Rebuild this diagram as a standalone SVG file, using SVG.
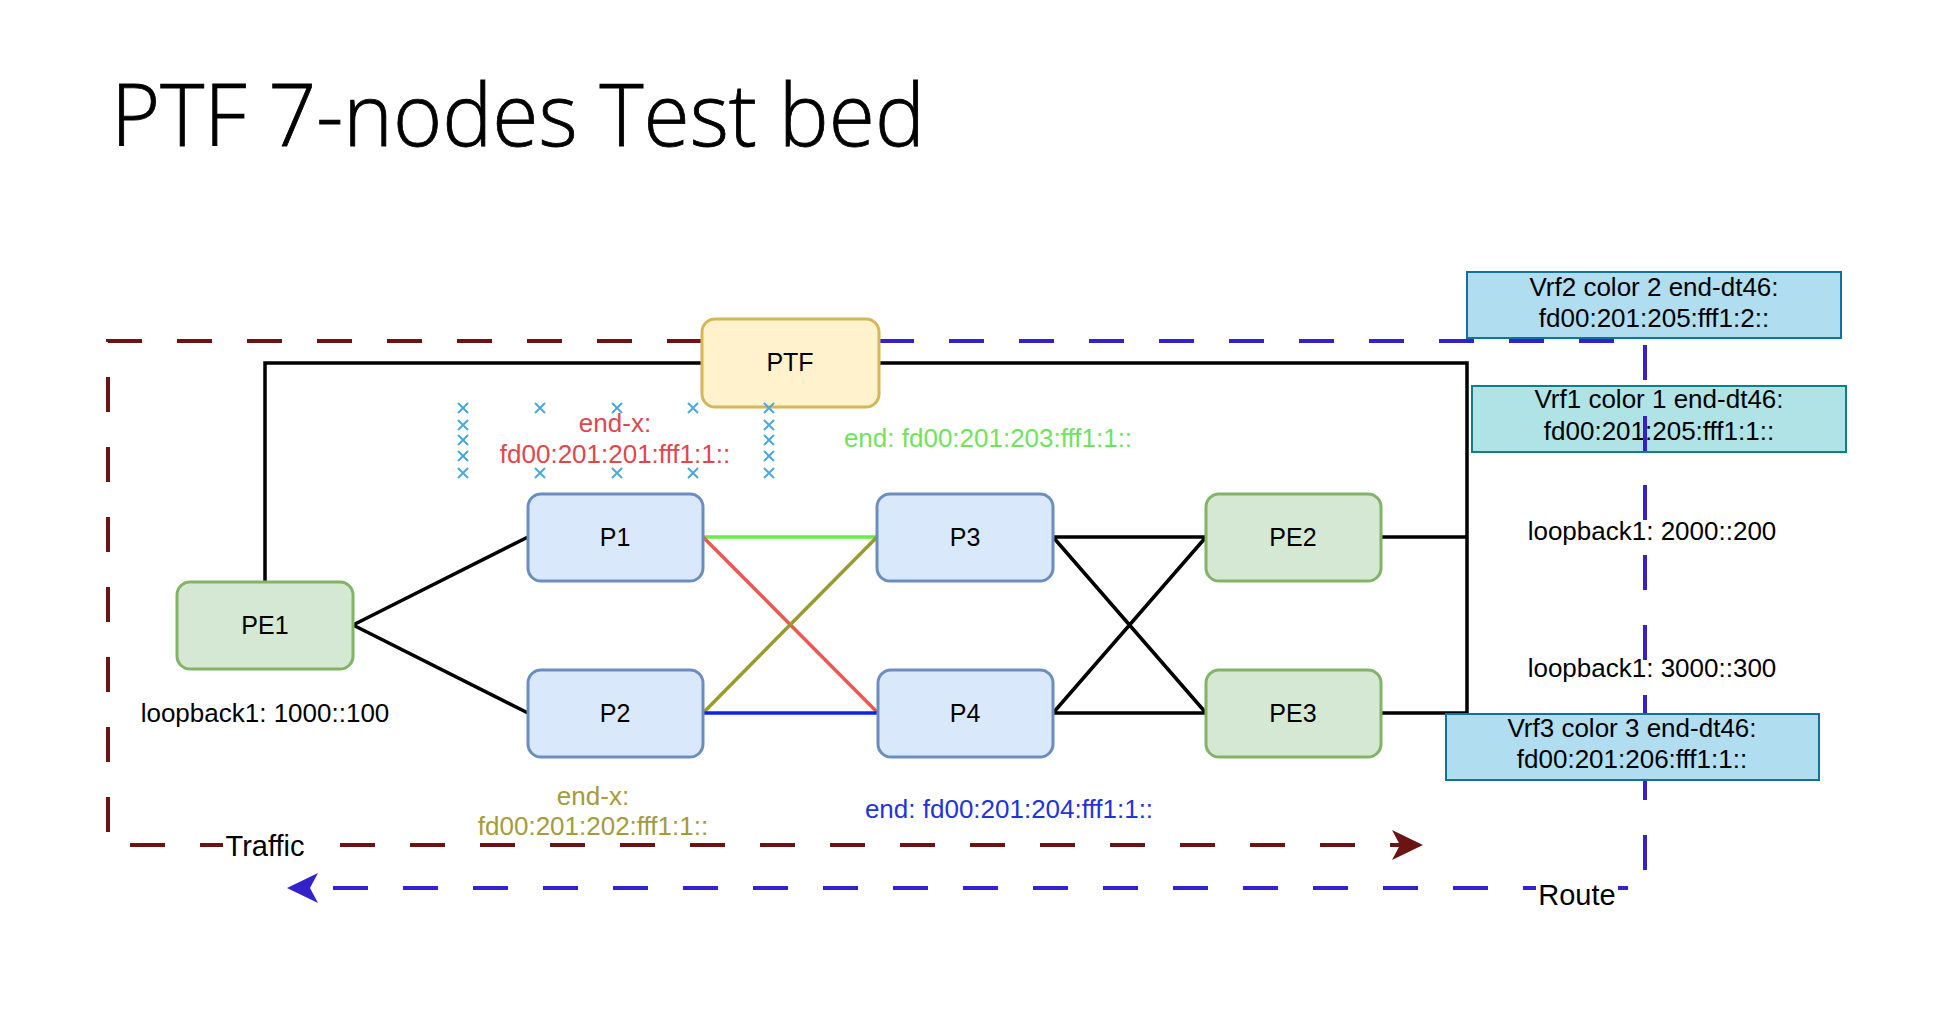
<svg xmlns="http://www.w3.org/2000/svg" width="1938" height="1032" viewBox="0 0 1938 1032">
<defs>
<style>
.t{font-family:"Liberation Sans",Arial,sans-serif;font-size:25px;fill:#000;text-anchor:middle}
.lbl{font-family:"Liberation Sans",Arial,sans-serif;font-size:26px;text-anchor:middle}
.blue{fill:#dae8fc;stroke:#6c8ebf;stroke-width:3}
.green{fill:#d5e8d4;stroke:#82b366;stroke-width:3}
.yellow{fill:#fff2cc;stroke:#d6b656;stroke-width:3}
.ln{fill:none;stroke:#000;stroke-width:3.5}
.cl{fill:none;stroke-width:3.5}
.dash{fill:none;stroke-width:4;stroke-dasharray:35 35}
.xm{fill:none;stroke:#4aa8de;stroke-width:2}
</style>
<path id="xx" d="M-5,-5 L5,5 M5,-5 L-5,5"/>
<marker id="arrM" markerUnits="userSpaceOnUse" viewBox="0 0 32 32" markerWidth="32" markerHeight="32" refX="8" refY="16" orient="auto">
<path d="M0,1 L31,16 L0,31 L8,16 Z" fill="#6b1414"/>
</marker>
<marker id="arrB" markerUnits="userSpaceOnUse" viewBox="0 0 32 32" markerWidth="32" markerHeight="32" refX="8" refY="16" orient="auto">
<path d="M0,1 L31,16 L0,31 L8,16 Z" fill="#3322cc"/>
</marker>
</defs>
<rect width="1938" height="1032" fill="#fff"/>
<text x="111" y="146" font-family="Open Sans, Noto Sans, sans-serif" font-weight="300" font-size="86" stroke="#000" stroke-width="0.8" textLength="814" lengthAdjust="spacingAndGlyphs">PTF 7-nodes Test bed</text>

<g id="connectors">
<path class="dash" stroke="#6b1414" d="M702,341 H108 V845 H1400" marker-end="url(#arrM)"/>
<path class="dash" stroke="#3322cc" d="M879,341 H1645 V888 H310" marker-end="url(#arrB)"/>
<path class="ln" d="M702,363 H265 V582"/>
<path class="ln" d="M879,363 H1467 V713 H1381"/>
<path class="ln" d="M1381,537 H1467"/>
<path class="ln" d="M353,625 L528,537 M353,625 L528,713"/>
<path class="cl" stroke="#66ee44" d="M703,537 H877"/>
<path class="cl" stroke="#e85a50" d="M703,537 L878,713"/>
<path class="cl" stroke="#9a9a2e" d="M703,713 L877,537"/>
<path class="cl" stroke="#0d24e6" d="M703,713 H878"/>
<path class="ln" d="M1053,537 H1206 M1053,537 L1206,713 M1053,713 L1206,537 M1053,713 H1206"/>
</g>

<g id="label-traffic">
<rect x="223" y="830" width="84" height="30" fill="#fff"/>
<text x="265" y="856" font-family="Liberation Sans, Arial, sans-serif" font-size="29" text-anchor="middle">Traffic</text>
</g>
<g id="label-route">
<rect x="1536" y="874" width="82" height="36" fill="#fff"/>
<text x="1577" y="905" font-family="Liberation Sans, Arial, sans-serif" font-size="29" text-anchor="middle">Route</text>
</g>

<g id="PTF"><rect class="yellow" x="702" y="319" width="177" height="88" rx="13"/><text class="t" x="790" y="371">PTF</text></g>
<g id="P1"><rect class="blue" x="528" y="494" width="175" height="87" rx="13"/><text class="t" x="615" y="546">P1</text></g>
<g id="P3"><rect class="blue" x="877" y="494" width="176" height="87" rx="13"/><text class="t" x="965" y="546">P3</text></g>
<g id="PE2"><rect class="green" x="1206" y="494" width="175" height="87" rx="13"/><text class="t" x="1293" y="546">PE2</text></g>
<g id="PE1"><rect class="green" x="177" y="582" width="176" height="87" rx="13"/><text class="t" x="265" y="634">PE1</text></g>
<g id="P2"><rect class="blue" x="528" y="670" width="175" height="87" rx="13"/><text class="t" x="615" y="722">P2</text></g>
<g id="P4"><rect class="blue" x="878" y="670" width="175" height="87" rx="13"/><text class="t" x="965" y="722">P4</text></g>
<g id="PE3"><rect class="green" x="1206" y="670" width="175" height="87" rx="13"/><text class="t" x="1293" y="722">PE3</text></g>

<g id="vrf2"><rect x="1467" y="272" width="374" height="66" fill="#b1ddf0" stroke="#10739e" stroke-width="2"/>
<text class="lbl" x="1654" y="296">Vrf2 color 2 end-dt46:</text><text class="lbl" x="1654" y="327">fd00:201:205:fff1:2::</text></g>
<g id="vrf1"><rect x="1472" y="386" width="374" height="66" fill="#b0e3e6" stroke="#0e8088" stroke-width="2"/>
<text class="lbl" x="1659" y="408">Vrf1 color 1 end-dt46:</text><text class="lbl" x="1659" y="440">fd00:201:205:fff1:1::</text></g>
<path fill="none" stroke="#3322cc" stroke-width="4" d="M1645,416 V451"/>
<g id="vrf3"><rect x="1446" y="714" width="373" height="66" fill="#b1ddf0" stroke="#10739e" stroke-width="2"/>
<text class="lbl" x="1632" y="737">Vrf3 color 3 end-dt46:</text><text class="lbl" x="1632" y="768">fd00:201:206:fff1:1::</text></g>

<g id="endx-p1">
<g class="xm">
<use href="#xx" x="463" y="408"/><use href="#xx" x="463" y="425"/><use href="#xx" x="463" y="440"/><use href="#xx" x="463" y="456"/><use href="#xx" x="463" y="473"/>
<use href="#xx" x="769" y="408"/><use href="#xx" x="769" y="425"/><use href="#xx" x="769" y="440"/><use href="#xx" x="769" y="456"/><use href="#xx" x="769" y="473"/>
<use href="#xx" x="540" y="408"/><use href="#xx" x="617" y="408"/><use href="#xx" x="693" y="408"/>
<use href="#xx" x="540" y="473"/><use href="#xx" x="617" y="473"/><use href="#xx" x="693" y="473"/>
</g>
<text class="lbl" fill="#e0474c" x="615" y="432">end-x:</text>
<text class="lbl" fill="#e0474c" x="615" y="463">fd00:201:201:fff1:1::</text>
</g>
<g id="end-p3"><text class="lbl" fill="#70e35e" x="988" y="447">end: fd00:201:203:fff1:1::</text></g>
<g id="endx-p2"><text class="lbl" fill="#a39c3a" x="593" y="805">end-x:</text><text class="lbl" fill="#a39c3a" x="593" y="835">fd00:201:202:fff1:1::</text></g>
<g id="end-p4"><text class="lbl" fill="#2233dd" x="1009" y="818">end: fd00:201:204:fff1:1::</text></g>
<g id="loopbacks">
<text class="lbl" fill="#000" x="265" y="722">loopback1: 1000::100</text>
<text class="lbl" fill="#000" x="1652" y="540">loopback1: 2000::200</text>
<text class="lbl" fill="#000" x="1652" y="677">loopback1: 3000::300</text>
</g>
</svg>
